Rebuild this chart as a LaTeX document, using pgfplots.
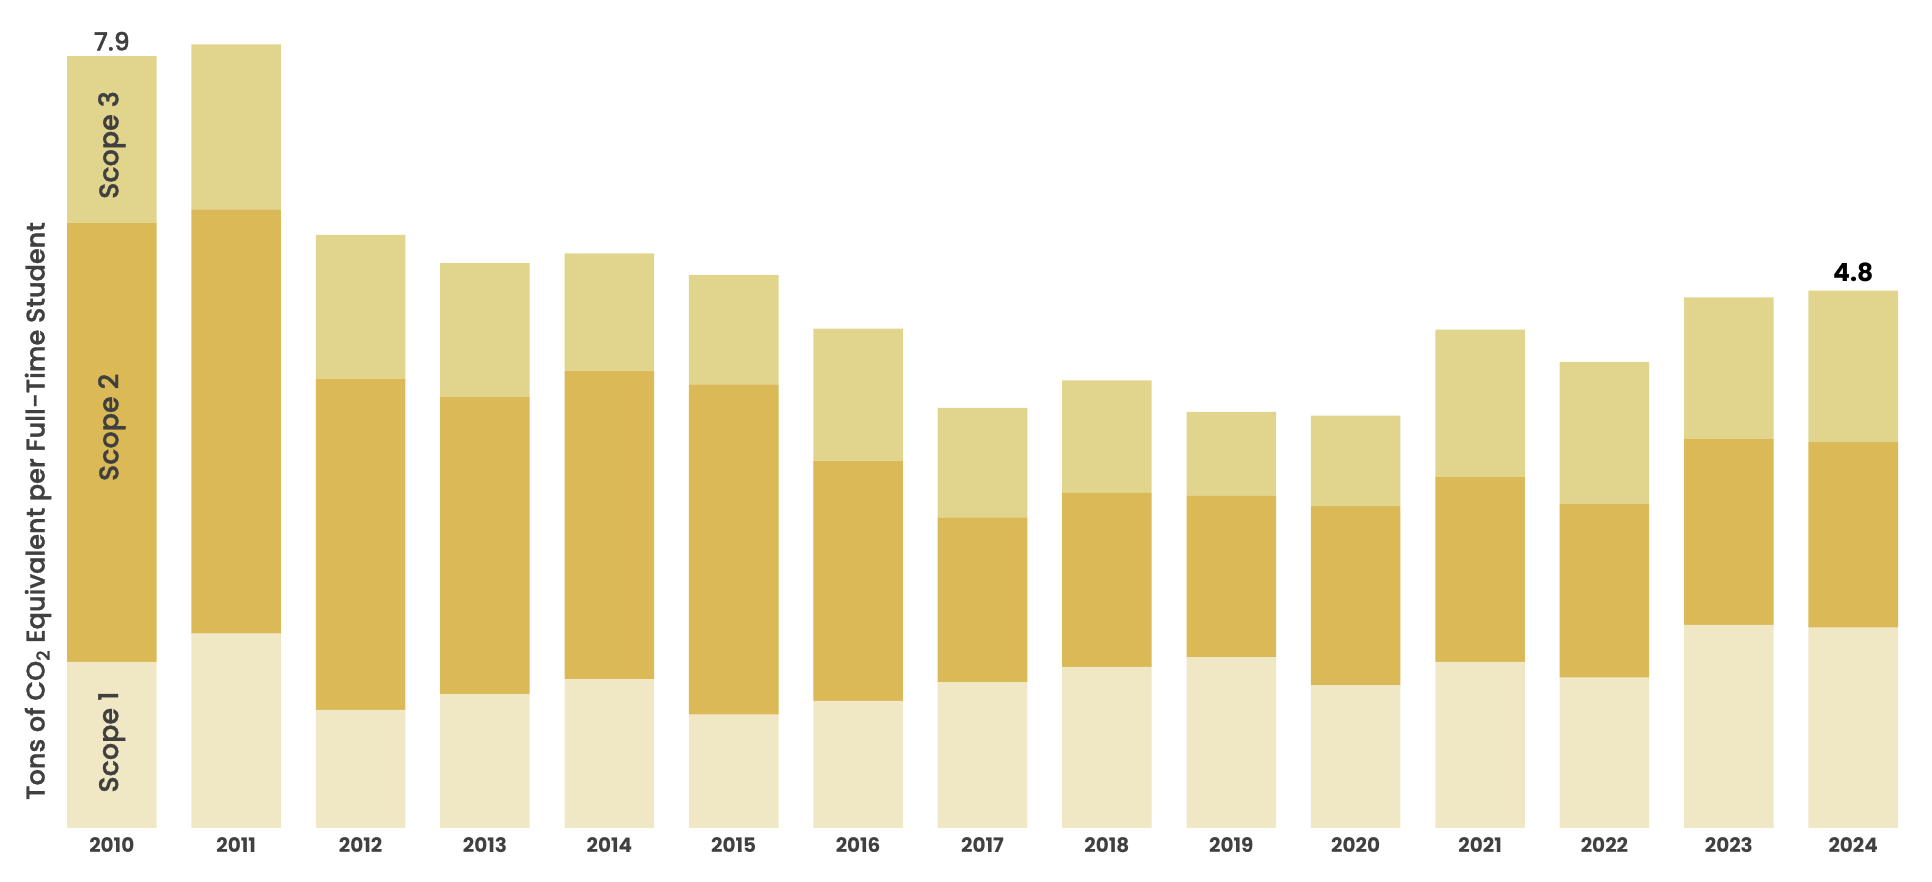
\documentclass[border=0pt]{standalone}
\usepackage{pgfplots}
\pgfplotsset{compat=1.18}
\usepackage{pgfplotstable}
\usepackage{fontspec}
\setmainfont{Poppins}
\newfontfamily\medfont{Poppins Medium}[FakeBold=1.2]

\definecolor{sone}{HTML}{F0E8C4}
\definecolor{stwo}{HTML}{DAB956}
\definecolor{sthree}{HTML}{E1D58E}
\definecolor{txt}{HTML}{404040}

% tons CO2e per full-time student, by scope
\pgfplotstableread{
x  s1   s2   s3
0  1.70 4.49 1.71
1  1.99 4.34 1.69
2  1.21 3.39 1.47
3  1.37 3.04 1.37
4  1.52 3.16 1.20
5  1.16 3.38 1.12
6  1.30 2.46 1.35
7  1.49 1.69 1.12
8  1.65 1.78 1.15
9  1.75 1.65 0.86
10 1.46 1.84 0.92
11 1.70 1.89 1.51
12 1.54 1.78 1.45
13 2.08 1.90 1.45
14 2.05 1.90 1.55
}\emissions

\begin{document}
\begin{tikzpicture}
\begin{axis}[
  scale only axis,
  width=915.5pt, height=405.5pt,
  ybar stacked, bar width=0.72,
  xmin=-0.36, xmax=14.36, ymin=0, ymax=8.3,
  axis y line=none,
  axis x line=bottom,
  x axis line style={draw=none},
  xtick=data,
  xticklabels={2010,2011,2012,2013,2014,2015,2016,2017,2018,2019,2020,2021,2022,2023,2024},
  major tick length=0pt,
  xticklabel style={font=\fontsize{10}{12}\selectfont\bfseries, text=txt, inner sep=0pt, yshift=-4.5pt},
  clip=false,
]
\addplot[fill=sone, draw=none] table[x=x, y=s1]{\emissions};
\addplot[fill=stwo, draw=none] table[x=x, y=s2]{\emissions};
\addplot[fill=sthree, draw=none] table[x=x, y=s3]{\emissions};

\coordinate (top10) at (axis cs:0,7.9);
\coordinate (top24) at (axis cs:14,5.50);
\coordinate (sc1) at (axis cs:0,0.88);
\coordinate (sc2) at (axis cs:0,4.10);
\coordinate (sc3) at (axis cs:0,6.99);
\end{axis}
\node[anchor=south, inner sep=0pt, yshift=2.5pt, text=txt, font=\fontsize{12.5}{14}\medfont] at (top10) {7.9};
\node[anchor=south, inner sep=0pt, yshift=4pt, text=black, font=\fontsize{12.5}{14}\selectfont\bfseries] at (top24) {4.8};
\node[rotate=90, text=txt, font=\fontsize{13.5}{15}\medfont] at (sc1) {Scope 1};
\node[rotate=90, text=txt, font=\fontsize{13.5}{15}\medfont] at (sc2) {Scope 2};
\node[rotate=90, text=txt, font=\fontsize{13.5}{15}\medfont] at (sc3) {Scope 3};
\node[rotate=90, text=txt, font=\fontsize{12.8}{15}\medfont] at (-14.5pt,158.5pt) {Tons of CO\textsubscript{2} Equivalent per Full-Time Student};
\path (-33.5pt,-27pt) rectangle (932.5pt,414pt);
\end{tikzpicture}
\end{document}
